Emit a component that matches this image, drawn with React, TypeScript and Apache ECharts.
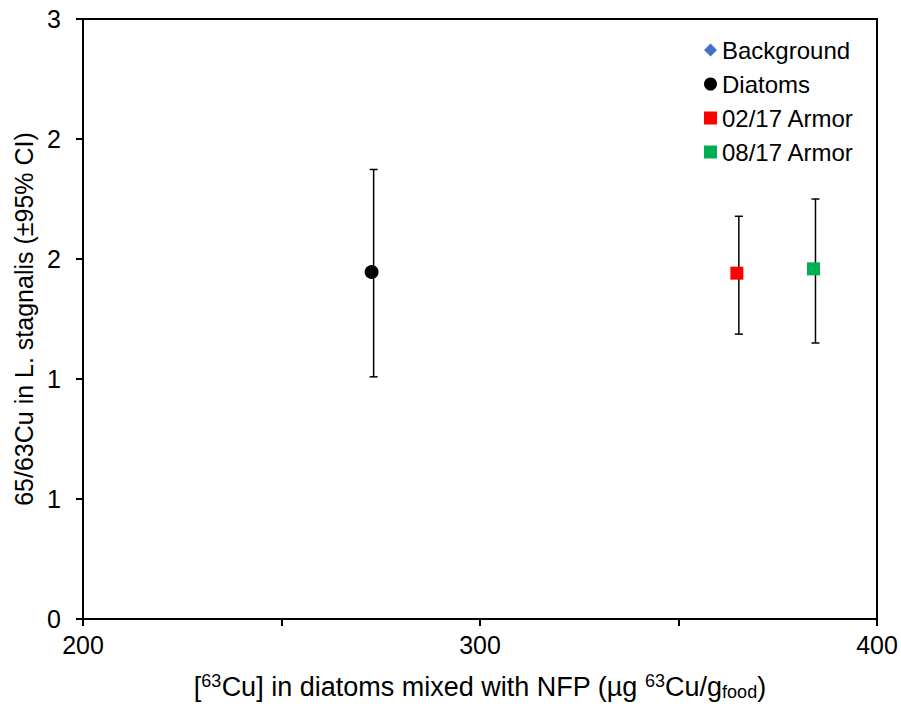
import React, { useEffect, useRef } from "react";
import * as echarts from "echarts";

// Data
const seriesNames = ["Background", "Diatoms", "02/17 Armor", "08/17 Armor"];
const seriesColors = ["#4472C4", "#000000", "#FF0000", "#00B050"];
const seriesSymbols = ["diamond", "circle", "rect", "rect"];
// Points for Diatoms, 02/17 Armor, 08/17 Armor (Background has no point)
const cuInDiatoms = [272.7, 364.7, 384.0];
const ratio6563 = [1.446, 1.441, 1.459];
const ciLow = [1.009, 1.187, 1.15];
const ciHigh = [1.873, 1.678, 1.75];
const xTicks = [200, 250, 300, 350, 400];
const yTicks = [0, 0.5, 1, 1.5, 2, 2.5];

const FONT = "'Liberation Sans', Arial, sans-serif";

export default function App() {
  const ref = useRef<HTMLDivElement>(null);

  useEffect(() => {
    if (!ref.current) return;
    const chart = echarts.init(ref.current, undefined, { renderer: "svg" });

    const pointSeries = seriesNames.map((name, i) => ({
      name,
      type: "scatter",
      symbol: seriesSymbols[i],
      symbolSize: i === 1 ? 14 : 13,
      itemStyle: { color: seriesColors[i], opacity: 1 },
      z: 5,
      data: i === 0 ? [] : [[cuInDiatoms[i - 1], ratio6563[i - 1]]],
    }));

    const errData = cuInDiatoms.map((x, i) => [x, ciLow[i], ciHigh[i]]);

    const option: any = {
      animation: false,
      backgroundColor: "#ffffff",
      textStyle: { fontFamily: FONT, color: "#000" },
      grid: {
        left: 83,
        right: 24,
        top: 19,
        bottom: 83,
        show: true,
        borderColor: "#000",
        borderWidth: 2,
        backgroundColor: "transparent",
      },
      legend: {
        orient: "vertical",
        left: 704,
        top: 38,
        itemWidth: 13,
        itemHeight: 13,
        itemGap: 10,
        textStyle: { fontFamily: FONT, fontSize: 24, color: "#000", lineHeight: 24 },
        data: seriesNames.map((n, i) => ({
          name: n,
          icon: seriesSymbols[i],
          itemStyle: { color: seriesColors[i] },
        })),
        selectedMode: false,
        padding: 0,
      },
      xAxis: {
        type: "value",
        min: xTicks[0],
        max: xTicks[xTicks.length - 1],
        interval: 50,
        name: "[{sup|63}Cu] in diatoms mixed with NFP (µg {sup|63}Cu/g{sub|food})",
        nameLocation: "middle",
        nameGap: 53,
        nameTextStyle: {
          fontFamily: FONT,
          fontSize: 27,
          color: "#000",
          rich: {
            sup: { fontSize: 18, fontFamily: FONT, color: "#000", verticalAlign: "top", lineHeight: 29 },
            sub: { fontSize: 18, fontFamily: FONT, color: "#000", verticalAlign: "bottom", lineHeight: 20, padding: [9, 0, 0, 0] },
          },
        },
        axisLine: { show: true, onZero: false, lineStyle: { color: "#000", width: 2 } },
        axisTick: { show: true, inside: false, length: 7, lineStyle: { color: "#000", width: 2 } },
        axisLabel: {
          fontFamily: FONT,
          fontSize: 25,
          color: "#000",
          margin: 13,
          formatter: (v: number) => (v % 100 === 0 ? String(v) : ""),
        },
        splitLine: { show: false },
      },
      yAxis: {
        type: "value",
        min: yTicks[0],
        max: yTicks[yTicks.length - 1],
        interval: 0.5,
        name: "65/63Cu in L. stagnalis (±95% CI)",
        nameLocation: "middle",
        nameGap: 41,
        nameRotate: 90,
        nameTextStyle: { fontFamily: FONT, fontSize: 25, color: "#000" },
        axisLine: { show: true, onZero: false, lineStyle: { color: "#000", width: 2 } },
        axisTick: { show: true, inside: false, length: 7, lineStyle: { color: "#000", width: 2 } },
        axisLabel: {
          fontFamily: FONT,
          fontSize: 25,
          color: "#000",
          margin: 22,
          formatter: (v: number) => String(Math.round(v)),
        },
        splitLine: { show: false },
      },
      series: [
        {
          name: "errorbars",
          type: "custom",
          z: 2,
          silent: true,
          data: errData,
          encode: { x: 0, y: [1, 2] },
          renderItem: (params: any, api: any) => {
            const x = api.value(0);
            const lo = api.coord([x, api.value(1)]);
            const hi = api.coord([x, api.value(2)]);
            const px = lo[0] + 2;
            const cap = 4;
            const style = { stroke: "#000", lineWidth: 1.5 };
            return {
              type: "group",
              children: [
                { type: "line", shape: { x1: px, y1: lo[1], x2: px, y2: hi[1] }, style },
                { type: "line", shape: { x1: px - cap, y1: lo[1], x2: px + cap, y2: lo[1] }, style },
                { type: "line", shape: { x1: px - cap, y1: hi[1], x2: px + cap, y2: hi[1] }, style },
              ],
            };
          },
        },
        ...pointSeries,
      ],
    };

    chart.setOption(option);
    return () => chart.dispose();
  }, []);

  return <div ref={ref} style={{ width: 901, height: 706, position: "absolute", left: 0, top: 0, background: "#fff" }} />;
}
